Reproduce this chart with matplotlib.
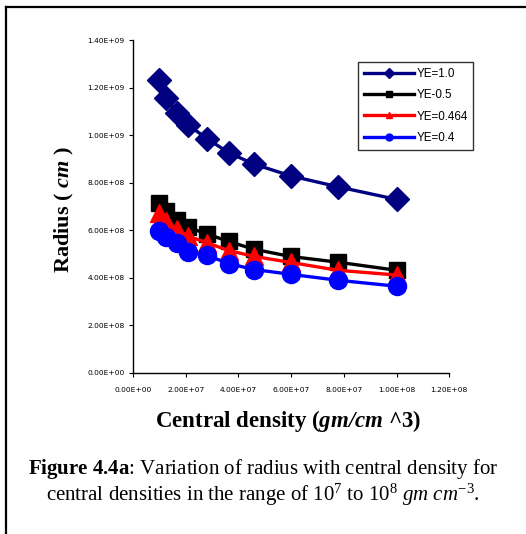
import matplotlib.pyplot as plt
from matplotlib.lines import Line2D
from matplotlib.ticker import FuncFormatter

plt.rcParams['mathtext.fontset'] = 'custom'
plt.rcParams['mathtext.rm'] = 'Liberation Serif'
plt.rcParams['mathtext.it'] = 'Liberation Serif:italic'
plt.rcParams['mathtext.bf'] = 'Liberation Serif:bold'
plt.rcParams['mathtext.sf'] = 'Liberation Serif:bold:italic'  # bold italic for axis labels

# central density (gm/cm^3)
density = [1.0e7, 1.25e7, 1.66e7, 2.1e7, 2.8e7, 3.63e7, 4.6e7, 5.98e7, 7.77e7, 1.0e8]

# radius (cm) for each electron fraction
radius_ye10 = [1.234e9, 1.158e9, 1.094e9, 1.042e9, 0.986e9, 0.926e9, 0.878e9, 0.829e9, 0.783e9, 0.730e9]
radius_ye05 = [0.713e9, 0.680e9, 0.645e9, 0.612e9, 0.585e9, 0.553e9, 0.520e9, 0.490e9, 0.466e9, 0.432e9]
radius_ye0464 = [0.672e9, 0.640e9, 0.605e9, 0.575e9, 0.548e9, 0.515e9, 0.490e9, 0.465e9, 0.432e9, 0.412e9]
radius_ye04 = [0.598e9, 0.570e9, 0.545e9, 0.510e9, 0.495e9, 0.460e9, 0.435e9, 0.415e9, 0.390e9, 0.365e9]

labels = ['YE=1.0', 'YE-0.5', 'YE=0.464', 'YE=0.4']
colors = ['#000080', 'black', 'red', 'blue']
markers = ['D', 's', '^', 'o']
series = [radius_ye10, radius_ye05, radius_ye0464, radius_ye04]
msizes = [12, 12, 13, 13]

xticks = [0, 2e7, 4e7, 6e7, 8e7, 1e8, 1.2e8]
yticks = [0, 2e8, 4e8, 6e8, 8e8, 1e9, 1.2e9, 1.4e9]

fig = plt.figure(figsize=(5.26, 5.34), dpi=100)

# frame (left and top edges only)
fig.add_artist(Line2D([0.0105, 0.0105], [0, 0.987], color='black', lw=1.6))
fig.add_artist(Line2D([0.0105, 1.0], [0.987, 0.987], color='black', lw=1.6))

ax = fig.add_axes([0.253, 0.3015, 0.601, 0.6235])
for y, c, m, ms in zip(series, colors, markers, msizes):
    ax.plot(density, y, color=c, marker=m, markersize=ms, lw=2.4, clip_on=False)

ax.set_xlim(0, 1.2e8)
ax.set_ylim(0, 1.4e9)
ax.set_xticks(xticks)
ax.set_yticks(yticks)
sci = FuncFormatter(lambda v, p: '%.2E' % v)
ax.xaxis.set_major_formatter(sci)
ax.yaxis.set_major_formatter(sci)
ax.tick_params(direction='out', length=3, width=0.8, labelsize=5.4)
ax.tick_params(axis='x', pad=7)
ax.tick_params(axis='y', pad=3)
for s in ['top', 'right']:
    ax.spines[s].set_visible(False)
ax.spines['left'].set_linewidth(1.0)
ax.spines['bottom'].set_linewidth(1.0)

ax.set_ylabel(r'Radius ( $\mathsf{cm}$ )', fontsize=16, fontweight='bold',
              family='Liberation Serif')
ax.yaxis.set_label_coords(-0.182, 0.49)
ax.set_xlabel(r'Central density ($\mathsf{gm/cm}$ ^3)', fontsize=16.5, fontweight='bold',
              family='Liberation Serif')
ax.xaxis.set_label_coords(0.49, -0.105)

handles = [Line2D([], [], color=c, marker=m, markersize=5, lw=2.4) for c, m in zip(colors, markers)]
leg = ax.legend(handles, labels, loc='upper left', bbox_to_anchor=(0.713, 0.934),
                prop={'family': 'Liberation Sans', 'size': 8.4}, handlelength=4.3,
                handletextpad=0.15, labelspacing=0.8, frameon=True, fancybox=False,
                borderpad=0.5, borderaxespad=0)
leg.get_frame().set_edgecolor('black')
leg.get_frame().set_linewidth(1.0)

fig.text(0.5, 0.112, r'$\mathbf{Figure\ 4.4a}$: Variation of radius with central density for',
         ha='center', fontsize=15, family='Liberation Serif')
fig.text(0.5, 0.063, r'central densities in the range of 10$^7$ to 10$^8$ $\mathit{gm\ cm}^{-3}$.',
         ha='center', fontsize=15, family='Liberation Serif')

fig.savefig('out.png', dpi=100)
